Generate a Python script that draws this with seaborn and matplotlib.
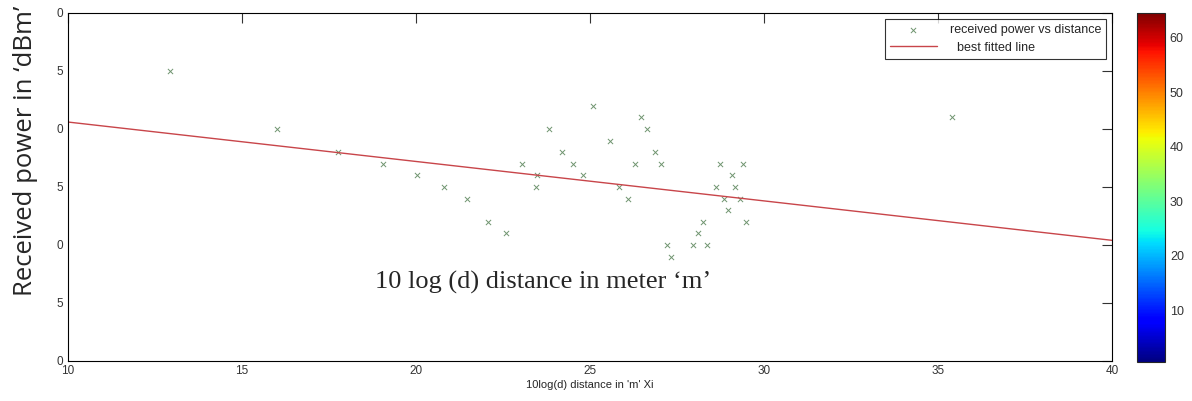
import numpy as np
import matplotlib
matplotlib.use('Agg')
import matplotlib.pyplot as plt
import seaborn as sns
import pandas as pd

# measured points (10log(d), received power dBm)
dist = [12.93, 16.0, 17.76, 19.05, 20.03, 20.8, 21.47, 22.07, 22.59, 23.05,
        23.48, 23.45, 23.82, 24.2, 24.5, 24.8, 25.09, 25.58, 25.83, 26.09,
        26.29, 26.47, 26.64, 26.87, 27.04, 27.21, 27.33, 27.96, 28.1, 28.25,
        28.36, 28.62, 28.74, 28.85, 28.97, 29.08, 29.17, 29.31, 29.4, 29.48,
        35.4]
power = [-45, -50, -52, -53, -54, -55, -56, -58, -59, -53,
         -54, -55, -50, -52, -53, -54, -48, -51, -55, -56,
         -53, -49, -50, -52, -53, -60, -61, -60, -59, -58,
         -60, -55, -53, -56, -57, -54, -55, -56, -53, -58,
         -49]

fit_x = [10, 40]
fit_y = [-49.4, -59.6]

y_ticks = [-40, -45, -50, -55, -60, -65, -70]
y_ticklabels = ['0', '5', '0', '5', '0', '5', '0']
x_ticks = [10, 15, 20, 25, 30, 35, 40]
cbar_ticks = [10, 20, 30, 40, 50, 60]

df = pd.DataFrame({'dist': dist, 'power': power})
df_fit = pd.DataFrame({'x': fit_x, 'y': fit_y})

sns.set_style('white')
plt.rcParams['font.family'] = ['Liberation Sans', 'DejaVu Sans']

fig = plt.figure(figsize=(11.92, 4.01), dpi=100)
ax = fig.add_axes([0.057, 0.0998, 0.876, 0.8678])

sns.scatterplot(data=df, x='dist', y='power', marker='x', color='#6f946f',
                s=14, linewidth=0.7, ax=ax, label='received power vs distance')
sns.lineplot(data=df_fit, x='x', y='y', color='#c8454a', linewidth=1.0,
             ax=ax, label='  best fitted line')

ax.set_xlim(10, 40)
ax.set_ylim(-70, -40)
ax.set_xticks(x_ticks)
ax.set_yticks(y_ticks)
ax.set_yticklabels(y_ticklabels)
ax.tick_params(direction='in', length=7, width=0.8, top=True, right=True,
               labelsize=8.5, colors='#333333')
ax.tick_params(axis='x', pad=3)
for s in ax.spines.values():
    s.set_color('black')
    s.set_linewidth(0.8)

ax.set_xlabel("10log(d) distance in 'm' Xi", fontsize=8, labelpad=2)
ax.set_ylabel('')

ax.text(0.455, 0.227, "10 log (d) distance in meter \u2018m\u2019", transform=ax.transAxes,
        ha='center', va='center', fontsize=19, family='Liberation Serif')

fig.text(0.021, 0.625, "Received power in \u2018dBm\u2019", rotation=90, ha='center',
         va='center', fontsize=18.5, family='Open Sans')

leg = ax.legend(loc='upper right', fontsize=9, frameon=True, fancybox=False,
                edgecolor='black', borderaxespad=0.5, handlelength=3.8,
                labelspacing=0.45, borderpad=0.4, handletextpad=1.0)
leg.get_frame().set_linewidth(0.8)

cax = fig.add_axes([1137 / 1192, 1 - 362 / 401, 28 / 1192, 349 / 401])
sm = matplotlib.cm.ScalarMappable(cmap='jet', norm=matplotlib.colors.Normalize(0.5, 64.5))
cb = fig.colorbar(sm, cax=cax, ticks=cbar_ticks)
cb.outline.set_linewidth(0.8)
cax.tick_params(labelsize=9, direction='in', length=4, colors='#333333')

fig.savefig('out.png', dpi=100)
